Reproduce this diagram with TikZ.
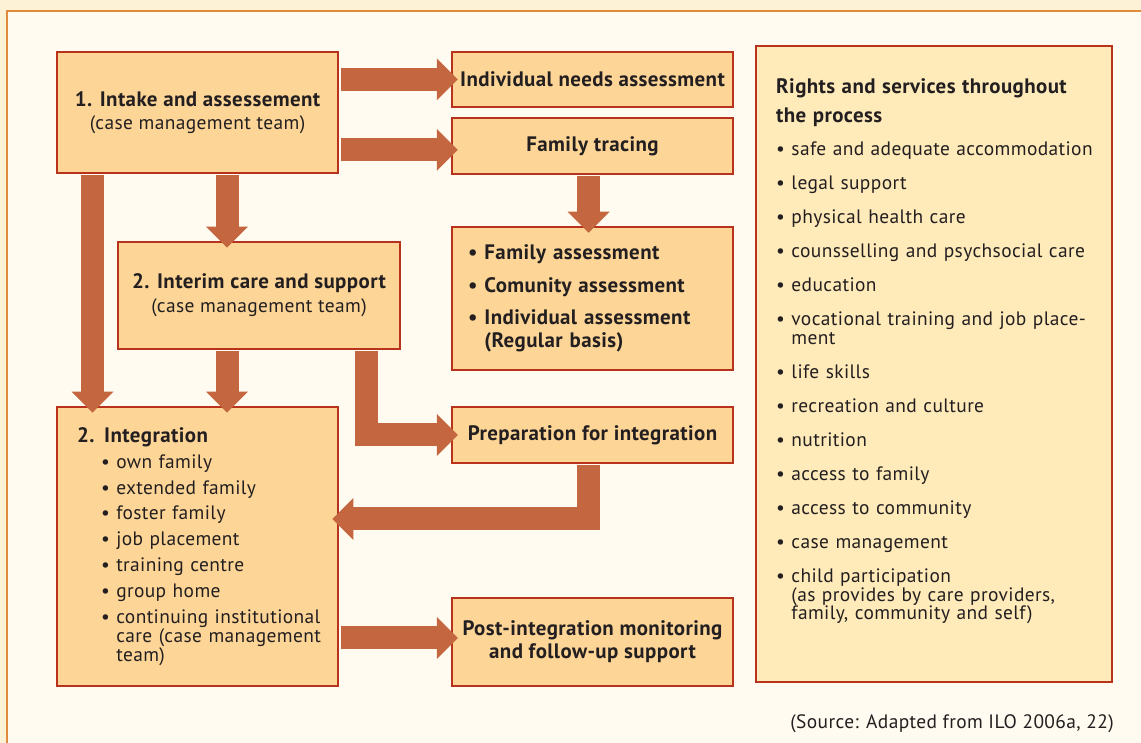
\documentclass[tikz,border=0pt]{standalone}
\usepackage{fontspec}
\setmainfont[LetterSpace=2]{PT Sans}
\usetikzlibrary{arrows.meta,calc}

\definecolor{pagebg}{HTML}{FDF1D6}
\definecolor{panelbg}{HTML}{FFFBF0}
\definecolor{panelline}{HTML}{E08A3C}
\definecolor{boxfill}{HTML}{FDD597}
\definecolor{boxline}{HTML}{B8321C}
\definecolor{rightsfill}{HTML}{FFEAB9}
\definecolor{arrowc}{HTML}{C4663F}
\definecolor{inkc}{HTML}{231F20}

\newcommand{\ttlfont}{\fontsize{21}{19}\selectfont\bfseries}
\newcommand{\txtfont}{\fontsize{19.5}{19}\selectfont}
\newcommand{\dotitem}{\textbullet\ }
\newcommand{\integline}[1]{\mbox{\hspace*{24bp}#1}}

\tikzset{
  stagebox/.style={draw=boxline,line width=2.5bp,fill=boxfill,rectangle,
    minimum width=281bp,inner sep=0pt,text=inkc,align=center,font=\txtfont},
  titled/.style={font=\ttlfont},
  fatarrow/.style={draw=arrowc,line width=23bp,
    -{Triangle[length=21bp,width=42bp,line width=0pt]},
    shorten <=1.25bp,shorten >=-7bp},
}

\begin{document}
\begin{tikzpicture}[line join=miter]
    \useasboundingbox (0,0) rectangle (1141bp,743bp);
    \fill[pagebg] (0,0) rectangle (1141bp,743bp);
    \fill[panelbg] (7bp,0) rectangle (1141bp,732bp);
    \draw[panelline,line width=2bp] (7bp,0) -- (7bp,732bp) -- (1141bp,732bp);
    %%
    \node (intake) at (197.5bp,630.5bp) [stagebox,minimum height=121bp]
      {{\ttlfont 1. Intake and assessement}\\[4bp] (case management team)};
    \node (needs) at (592.5bp,663.5bp) [stagebox,titled,minimum height=55bp]
      {Individual needs assessment};
    \node (tracing) at (592.5bp,597bp) [stagebox,titled,minimum height=56bp]
      {Family tracing};
    \node (interim) at (259bp,447.5bp) [stagebox,minimum width=282bp,minimum height=107bp]
      {{\ttlfont 2. Interim care and support}\\[5bp] (case management team)};
    \node (famass) at (592.5bp,444.5bp) [stagebox,titled,minimum height=143bp,
      text width=249bp,align=left]
      {\dotitem Family assessment\\[12bp]
       \dotitem Comunity assessment\\[12bp]
       \mbox{\dotitem Individual assessment}\\[4bp]
       \phantom{\dotitem}(Regular basis)};
    \node (integ) at (197.5bp,196.5bp) [stagebox,minimum height=279bp,
      text width=241bp,align=left]
      {{\ttlfont 2. Integration}\\[7bp]
       \integline{\dotitem own family}\\[7bp]
       \integline{\dotitem extended family}\\[7bp]
       \integline{\dotitem foster family}\\[7bp]
       \integline{\dotitem job placement}\\[7bp]
       \integline{\dotitem training centre}\\[7bp]
       \integline{\dotitem group home}\\[7bp]
       \integline{\dotitem continuing institutional}\\
       \integline{\phantom{\dotitem}care (case management}\\
       \integline{\phantom{\dotitem}team)}};
    \node (prep) at (592.5bp,308bp) [stagebox,titled,minimum height=56bp]
      {Preparation for integration};
    \node (post) at (592.5bp,101bp) [stagebox,titled,minimum height=88bp]
      {Post-integration monitoring\\[3bp] and follow-up support};
    %%
    \node (rights) at (934bp,379bp) [draw=boxline,line width=2.5bp,fill=rightsfill,
      minimum width=356bp,minimum height=636bp,inner sep=0pt] {};
    \node (rightstxt) at (776bp,649bp) [anchor=base west,inner sep=0pt,text=inkc,
      text width=335bp,align=left,font=\txtfont]
      {{\ttlfont Rights and services throughout}\\[8bp]
       {\ttlfont the process}\\[15bp]
       \mbox{\dotitem safe and adequate accommodation}\\[15bp]
       \dotitem legal support\\[15bp]
       \dotitem physical health care\\[15bp]
       \mbox{\dotitem counsselling and psychsocial care}\\[15bp]
       \dotitem education\\[15bp]
       \mbox{\dotitem vocational training and job place-}\\
       \phantom{\dotitem}ment\\[15bp]
       \dotitem life skills\\[15bp]
       \dotitem recreation and culture\\[15bp]
       \dotitem nutrition\\[15bp]
       \dotitem access to family\\[15bp]
       \dotitem access to community\\[15bp]
       \dotitem case management\\[15bp]
       \dotitem child participation\\
       \mbox{\phantom{\dotitem}(as provides by care providers,}\\
       \mbox{\phantom{\dotitem}family, community and self)}};
    \node (src) at (1114bp,15bp) [anchor=base east,inner sep=0pt,text=inkc,font=\txtfont]
      {(Source: Adapted from ILO 2006a, 22)};
    %%
    \coordinate (lcol) at (92.5bp,0);
    \coordinate (mcol) at (227bp,0);
    \coordinate (ecol) at (366bp,0);
    \coordinate (rcol) at (588.5bp,0);
    \coordinate (tracein) at ([yshift=-4bp]tracing.west);
    \coordinate (integin) at ([yshift=27.5bp]integ.east);
    \coordinate (postin) at ([yshift=4bp]post.west);
    %
    \draw [fatarrow] (intake.east |- needs.west) -- (needs.west);
    \draw [fatarrow] (intake.east |- tracein) -- (tracein);
    \draw [fatarrow] (intake.south -| mcol) -- (interim.north -| mcol);
    \draw [fatarrow] (intake.south -| lcol) -- (integ.north -| lcol);
    \draw [fatarrow] (interim.south -| mcol) -- (integ.north -| mcol);
    \draw [fatarrow] (interim.south -| ecol) |- (prep.west);
    \draw [fatarrow] (tracing.south -| rcol) -- (famass.north -| rcol);
    \draw [fatarrow] (prep.south -| rcol) |- (integin);
    \draw [fatarrow] (integ.east |- postin) -- (postin);
    %
\end{tikzpicture}
\end{document}
